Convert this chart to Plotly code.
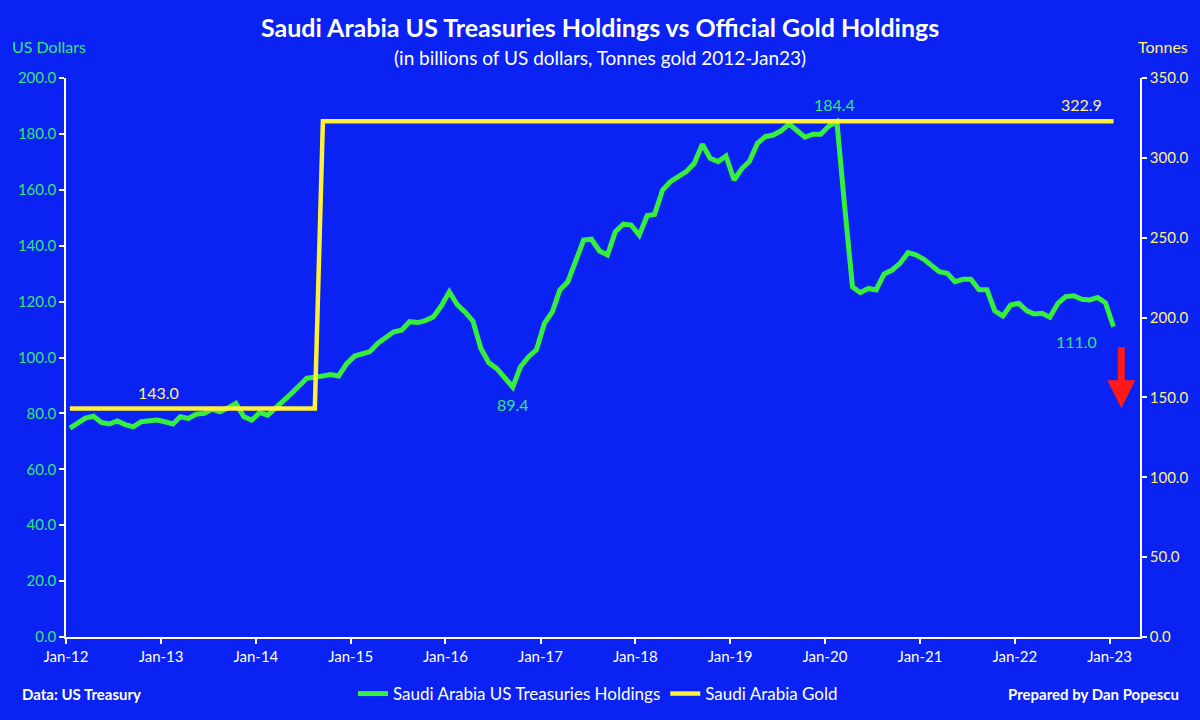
import pandas as pd
import plotly.graph_objects as go

# Monthly values Jan-2012 .. Jan-2023 (billions USD)
treasuries = [
    74.7, 76.5, 78.3, 79.0, 76.8, 76.2, 77.3, 76.0, 75.2, 77.0, 77.2, 77.6,   # 2012
    77.0, 76.2, 78.8, 78.2, 79.7, 80.0, 81.5, 80.6, 82.0, 83.6, 78.8, 77.6,   # 2013
    80.3, 79.4, 81.8, 84.2, 87.0, 89.8, 92.6, 92.9, 93.5, 93.9, 93.4, 97.7,   # 2014
    100.5, 101.3, 102.1, 105.1, 107.3, 109.2, 109.8, 112.8, 112.5, 113.2, 114.6, 118.5,  # 2015
    123.5, 118.8, 116.3, 113.0, 103.3, 98.1, 96.1, 92.8, 89.4, 96.7, 100.3, 102.7,  # 2016
    112.2, 116.4, 124.1, 127.1, 134.5, 142.0, 142.3, 138.1, 136.7, 145.0, 147.7, 147.4,  # 2017
    143.8, 150.8, 151.2, 159.9, 162.9, 164.7, 166.5, 169.5, 176.3, 171.3, 170.1, 172.1,  # 2018
    163.5, 167.7, 170.1, 176.6, 179.0, 179.6, 181.1, 183.5, 180.8, 178.8, 179.9, 179.9,  # 2019
    182.8, 184.4, 155.0, 125.3, 123.2, 124.7, 124.2, 129.9, 131.3, 133.7, 137.5, 136.7,  # 2020
    135.1, 132.7, 130.7, 130.1, 127.1, 128.0, 128.0, 124.2, 124.2, 116.7, 114.8, 118.8,  # 2021
    119.4, 116.7, 115.6, 115.8, 114.4, 119.4, 121.8, 122.1, 120.8, 120.6, 121.5, 119.6,  # 2022
    111.0,  # Jan-2023
]
# Official gold holdings (tonnes)
gold_before = 143.0
gold_after = 322.9
gold_months_before = 32  # Jan-2012 .. Aug-2014
gold = [gold_before] * gold_months_before + [gold_after] * (len(treasuries) - gold_months_before)

months = pd.date_range("2012-01-01", periods=len(treasuries), freq="MS") + pd.Timedelta(days=15)
tick_dates = pd.date_range("2012-01-01", "2023-01-01", freq="YS")
tick_labels = [d.strftime("Jan-%y") for d in tick_dates]

BG = "#0A22F2"
GREEN = "#36EE3E"
GREEN_TXT = "#3BE27A"
YELLOW = "#FFF03A"
YELLOW_TXT = "#FFF27A"
FONT = "Lato"

W, H = 1200, 720
L, R, T, B = 66, 60, 78, 83
pw, ph = W - L - R, H - T - B


def px_x(x):
    return (x - L) / pw


def px_y(y):
    return (H - B - y) / ph


fig = go.Figure()
fig.add_trace(go.Scatter(
    x=months, y=treasuries, name="Saudi Arabia US Treasuries Holdings",
    mode="lines", line=dict(color=GREEN, width=5), yaxis="y"))
fig.add_trace(go.Scatter(
    x=months, y=gold, name="Saudi Arabia Gold",
    mode="lines", line=dict(color=YELLOW, width=4.5), yaxis="y2"))

# data labels
i_min = 56
i_max = 97
i_last = len(treasuries) - 1
labels = [
    dict(x=months[i_max], y=treasuries[i_max], yref="y", text=f"{treasuries[i_max]:.1f}",
         yshift=17, xshift=-2, color=GREEN_TXT),
    dict(x=months[i_min], y=treasuries[i_min], yref="y", text=f"{treasuries[i_min]:.1f}",
         yshift=-17, xshift=0, color=GREEN_TXT),
    dict(x=months[i_last], y=treasuries[i_last], yref="y", text=f"{treasuries[i_last]:.1f}",
         yshift=-15, xshift=-37, color=GREEN_TXT),
    dict(x=months[12], y=gold[12], yref="y2", text=f"{gold[12]:.1f}",
         yshift=16, xshift=-6, color=YELLOW_TXT),
    dict(x=months[i_last], y=gold[i_last], yref="y2", text=f"{gold[i_last]:.1f}",
         yshift=17, xshift=-32, color=YELLOW_TXT),
]
for a in labels:
    fig.add_annotation(
        x=a["x"], y=a["y"], xref="x", yref=a["yref"], text=a["text"],
        xshift=a["xshift"], yshift=a["yshift"], showarrow=False,
        font=dict(family=FONT, size=16, color=a["color"]))

# red down arrow
fig.add_annotation(
    x=pd.Timestamp("2023-02-15"), y=81.8, ax=pd.Timestamp("2023-02-15"), ay=104.2,
    xref="x", yref="y", axref="x", ayref="y", text="", showarrow=True,
    arrowhead=2, arrowsize=0.8, arrowwidth=7, arrowcolor="#FF1A1A")

# free texts (pixel positions converted to paper coords)
paper_texts = [
    dict(text="<b>Saudi Arabia US Treasuries Holdings vs Official Gold Holdings</b>",
         xpx=600, ypx=27, xanchor="center", color="white", size=25),
    dict(text="(in billions of US dollars, Tonnes gold 2012-Jan23)",
         xpx=600, ypx=58, xanchor="center", color="white", size=19),
    dict(text="US Dollars", xpx=10, ypx=47, xanchor="left", color=GREEN_TXT, size=16),
    dict(text="Tonnes", xpx=1190, ypx=47, xanchor="right", color=YELLOW_TXT, size=16),
    dict(text="<b>Data: US Treasury</b>", xpx=20, ypx=694, xanchor="left", color="white", size=15),
    dict(text="<b>Prepared by Dan Popescu</b>", xpx=1181, ypx=694, xanchor="right", color="white", size=15),
]
for t in paper_texts:
    fig.add_annotation(
        text=t["text"], x=px_x(t["xpx"]), y=px_y(t["ypx"]),
        xref="paper", yref="paper", xanchor=t["xanchor"], yanchor="middle",
        showarrow=False, font=dict(family=FONT, color=t["color"], size=t["size"]))

axis_common = dict(
    showgrid=False, zeroline=False, showline=True, linecolor="white", linewidth=1.5,
    ticks="outside", tickcolor="white", ticklen=5, tickwidth=1.5, automargin=False)

fig.update_layout(
    width=W, height=H,
    paper_bgcolor=BG, plot_bgcolor=BG,
    margin=dict(l=L, r=R, t=T, b=B, autoexpand=False),
    font=dict(family=FONT, color="white"),
    showlegend=True,
    legend=dict(orientation="h", x=px_x(598), xanchor="center", y=px_y(694), yanchor="middle",
                font=dict(family=FONT, size=17, color="white"), bgcolor="rgba(0,0,0,0)",
                itemwidth=30, tracegroupgap=0),
    xaxis=dict(
        type="date", range=[pd.Timestamp("2012-01-01"), pd.Timestamp("2023-04-28")],
        tickvals=tick_dates, ticktext=tick_labels,
        tickfont=dict(family=FONT, size=15, color="white"), **axis_common),
    yaxis=dict(
        range=[0, 200], tickvals=list(range(0, 201, 20)), tickformat=".1f",
        tickfont=dict(family=FONT, size=15, color=GREEN_TXT), **axis_common),
    yaxis2=dict(
        range=[0, 350], tickvals=list(range(0, 351, 50)), tickformat=".1f",
        overlaying="y", side="right",
        tickfont=dict(family=FONT, size=15, color=YELLOW_TXT), **axis_common),
)

fig.write_html(
    "out.html",
    config={"displayModeBar": False},
    post_script=("document.body.style.margin='0';document.body.style.padding='0';"
                 "document.body.style.overflow='hidden';"
                 "document.body.style.background='" + BG + "';"),
)
